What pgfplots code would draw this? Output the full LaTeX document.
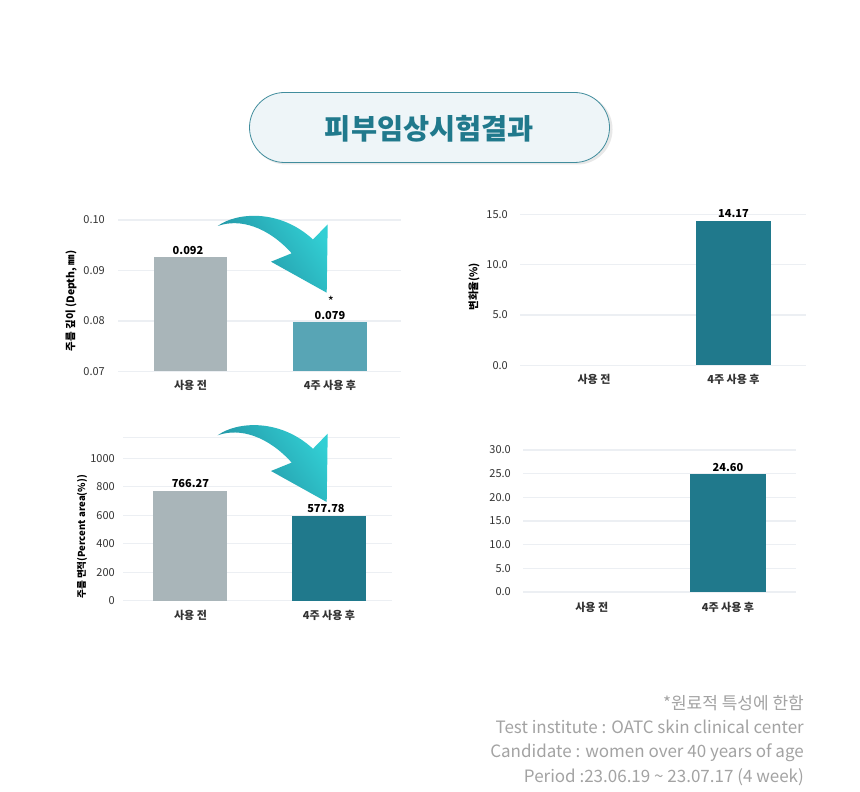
\documentclass[border=0pt]{standalone}
\usepackage{fontspec}
\usepackage{pgfplots}
\pgfplotsset{compat=1.18}
\setmainfont{Noto Sans CJK KR}
\definecolor{gridc}{HTML}{ECEFF3}
\definecolor{barg}{HTML}{A9B5B9}
\definecolor{barm}{HTML}{58A5B5}
\definecolor{bard}{HTML}{20798C}
\definecolor{txtc}{HTML}{333333}
\definecolor{foot}{HTML}{A3A3A3}
\definecolor{pill}{HTML}{EEF5F8}
\pgfplotsset{chart/.style={
  scale only axis,
  anchor=south west,
  ybar, bar shift=0pt,
  axis lines=left,
  axis line style={-,draw=none},
  ymajorgrids,
  major grid style={draw=gridc,line width=1.2pt},
  major tick length=0pt,
  xtick={0,1},
  xticklabels={사용 전,4주 사용 후},
  tick style={draw=none},
  tick label style={font=\fontsize{11}{12}\selectfont,text=txtc},
  xticklabel style={font=\fontsize{11}{12}\selectfont\bfseries,text=txtc,anchor=center,inner sep=0pt},
  yticklabel style={inner sep=0pt,anchor=east},
  /pgf/number format/assume math mode=true,
  /pgf/number format/1000 sep={},
  ylabel style={font=\fontsize{10.5}{12}\selectfont\bfseries,text=black,anchor=center},
  point meta=explicit symbolic,
  nodes near coords,
  every node near coord/.append style={font=\fontsize{11}{12}\selectfont\bfseries,text=black,inner sep=2.5pt},
  clip=false,
}}
\definecolor{arrd}{HTML}{208A9C}
\definecolor{arrm}{HTML}{30C6CC}
\definecolor{arrb}{HTML}{32CFD4}
\newcommand{\bigarrow}{%
  \path[left color=arrd,middle color=arrm,right color=arrb,shading angle=125]
   (217.7,566) .. controls (237,580) and (280,583) .. (313,552.5)
   -- (327.7,567.7) -- (326.7,499.3) -- (271,530.3) -- (291.7,538.7)
   .. controls (268,565) and (240,574) .. (217.7,566) -- cycle;}
\begin{document}
\begin{tikzpicture}[x=1pt,y=1pt]
\path[fill=white] (0,0) rectangle (860,792);
% title
\fill[black!9,rounded corners=35pt] (251,627.5) rectangle (612.5,698);
\draw[draw=bard!85,fill=pill,line width=0.8pt,rounded corners=35pt] (249.5,629.5) rectangle (609.5,699.5);
\node[font=\fontsize{28.4}{32}\selectfont\bfseries,text=bard,inner sep=0pt] at (429.5,663.5) {피부임상시험결과};
% chart 1
\begin{axis}[chart,at={(118pt,420.5pt)},width=283pt,height=151.5pt,bar width=73.5pt,
  xmin=-0.52,xmax=1.509,ymin=0.07,ymax=0.10,ytick={0.07,0.08,0.09,0.10},
  yticklabel style={xshift=-13pt,/pgf/number format/fixed,/pgf/number format/fixed zerofill,/pgf/number format/precision=2},
  xticklabel style={yshift=-13.5pt},
  ylabel={주름 깊이 (Depth, ㎜)},
  ylabel style={at={(axis description cs:-0.166,0.465)}}]
\addplot[fill=barg,draw=none,every node near coord/.append style={xshift=-2.5pt}] coordinates {(0,0.0927)[0.092]};
\addplot[fill=barm,draw=none] coordinates {(1,0.0798)[0.079]};
\end{axis}
\bigarrow
\node[font=\fontsize{13}{14}\selectfont,text=black,inner sep=0pt] at (331,490.5) {*};
% chart 2
\begin{axis}[chart,at={(123pt,191.3pt)},width=269pt,height=163.4pt,bar width=74pt,
  xmin=-0.487,xmax=1.455,ymin=0,ymax=1147.5,ytick={0,200,400,600,800,1000},
  yticklabel style={xshift=-8pt},
  xticklabel style={yshift=-15pt},
  ylabel={주름 면적(Percent area(\%))},
  ylabel style={font=\fontsize{9.6}{12}\selectfont\bfseries,at={(axis description cs:-0.152,0.39)}},
  every node near coord/.append style={inner sep=3.5pt}]
\addplot[fill=barg,draw=none] coordinates {(0,770)[766.27]};
\addplot[fill=bard,draw=none,every node near coord/.append style={xshift=-3pt}] coordinates {(1,595)[577.78]};
\draw[gridc,line width=1.2pt] (axis cs:-0.487,1147.5) -- (axis cs:1.513,1147.5);
\end{axis}
\begin{scope}[yshift=-209.3pt]\bigarrow\end{scope}
% chart 3
\begin{axis}[chart,at={(520pt,426.7pt)},width=286pt,height=151pt,bar width=75pt,
  xmin=-0.53,xmax=1.52,ymin=0,ymax=15,ytick={0,5,10,15},
  yticklabel style={xshift=-12pt,/pgf/number format/fixed,/pgf/number format/fixed zerofill,/pgf/number format/precision=1},
  xticklabel style={yshift=-14pt},
  ylabel={변화율(\%)},
  ylabel style={at={(axis description cs:-0.161,0.52)}},
  every node near coord/.append style={inner sep=3pt}]
\addplot[fill=bard,draw=none] coordinates {(1,14.33)[14.17]};
\end{axis}
% chart 4
\begin{axis}[chart,at={(523pt,200pt)},width=273pt,height=142pt,bar width=76pt,
  xmin=-0.504,xmax=1.499,ymin=0,ymax=30,ytick={0,5,10,15,20,25,30},
  yticklabel style={xshift=-12pt,/pgf/number format/fixed,/pgf/number format/fixed zerofill,/pgf/number format/precision=1},
  xticklabel style={yshift=-15pt}]
\addplot[fill=bard,draw=none] coordinates {(1,24.93)[24.60]};
\end{axis}
% footer
\begin{scope}[every node/.style={anchor=base east,inner sep=0pt,text=foot,font=\fontsize{17}{20}\selectfont}]
\node at (804,82.5) {*원료적 특성에 한함};
\node at (804,58) {Test institute : OATC skin clinical center};
\node at (804,34) {Candidate : women over 40 years of age};
\node at (804,9.5) {Period :23.06.19 \textasciitilde{} 23.07.17 (4 week)};
\end{scope}
\end{tikzpicture}
\end{document}
